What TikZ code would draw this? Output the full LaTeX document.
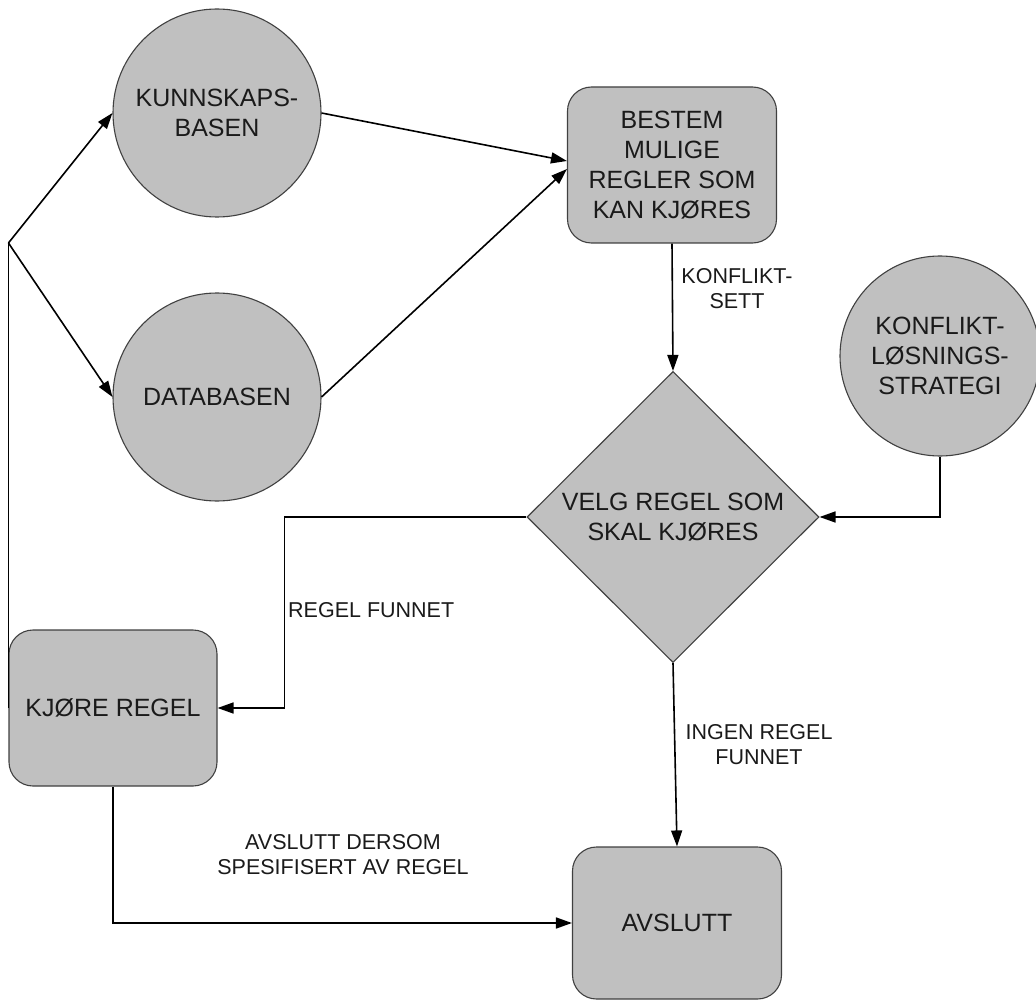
\documentclass[tikz,border=0pt]{standalone}
\usepackage{fontspec}
\setmainfont{Liberation Sans}
\usetikzlibrary{shapes.geometric,arrows.meta}

\definecolor{boxfill}{HTML}{C0C0C0}
\definecolor{boxline}{HTML}{404040}
\definecolor{inktext}{HTML}{1A1A1A}

\newcommand{\diagnodefont}{\fontsize{25}{30}\selectfont}
\newcommand{\diaglabelfont}{\fontsize{21.5}{25}\selectfont}

\begin{document}
\begin{tikzpicture}[x=1pt,y=-1pt,
  shapebase/.style={draw=boxline, line width=1.1pt, fill=boxfill, align=center,
                    font=\diagnodefont, text=inktext, inner sep=0pt},
  circ/.style={shapebase, circle, minimum size=#1},
  rbox/.style={shapebase, rectangle, rounded corners=24pt, minimum width=209pt, minimum height=#1},
  dia/.style={shapebase, diamond, minimum width=292pt, minimum height=291pt},
  conn/.style={draw=black, line width=1.6pt, -{Triangle[length=16pt,width=11pt]}},
  plainline/.style={draw=black, line width=1.6pt},
  lbl/.style={font=\diaglabelfont, align=center, text=inktext, inner sep=0pt}
]
\useasboundingbox (0,0) rectangle (1036,1000);

% nodes
\node[circ=208pt] (kb) at (217,113) {KUNNSKAPS-\\BASEN};
\node[circ=208pt] (db) at (217,397) {DATABASEN};
\node[rbox=156pt] (bestem) at (672,165) {BESTEM\\MULIGE\\REGLER SOM\\KAN KJØRES};
\node[circ=200pt] (konf) at (940,356) {KONFLIKT-\\LØSNINGS-\\STRATEGI};
\node[dia] (velg) at (673,517) {VELG REGEL SOM\\SKAL KJØRES};
\node[rbox=156pt, minimum width=208pt] (kjore) at (113,708) {KJØRE REGEL};
\node[rbox=152pt] (avslutt) at (677,923) {AVSLUTT};

% connectors
\path (kjore.west) ++(0,-465) coordinate (split);
\draw[plainline] (kjore.west) -- (split);
\draw[conn] (split) -- (kb.west);
\draw[conn] (split) -- (db.west);
\draw[conn] (kb.east) -- ([yshift=4pt]bestem.west);
\draw[conn] (db.east) -- ([yshift=-4pt]bestem.west);
\draw[conn] (bestem.south) -- (velg.north);
\draw[conn] (konf.south) |- (velg.east);
\draw[conn] (velg.west) -| ([xshift=67pt]kjore.east) -- (kjore.east);
\draw[conn] (velg.south) -- (avslutt.north);
\draw[conn] (kjore.south) |- (avslutt.west);

% connector labels
\node[lbl] (lset) at (737,289) {KONFLIKT-\\SETT};
\node[lbl, anchor=west] (lfound) at (288,610) {REGEL FUNNET};
\node[lbl] (lnone) at (759,745) {INGEN REGEL\\FUNNET};
\node[lbl] (lend) at (343,855) {AVSLUTT DERSOM\\SPESIFISERT AV REGEL};
\end{tikzpicture}
\end{document}
